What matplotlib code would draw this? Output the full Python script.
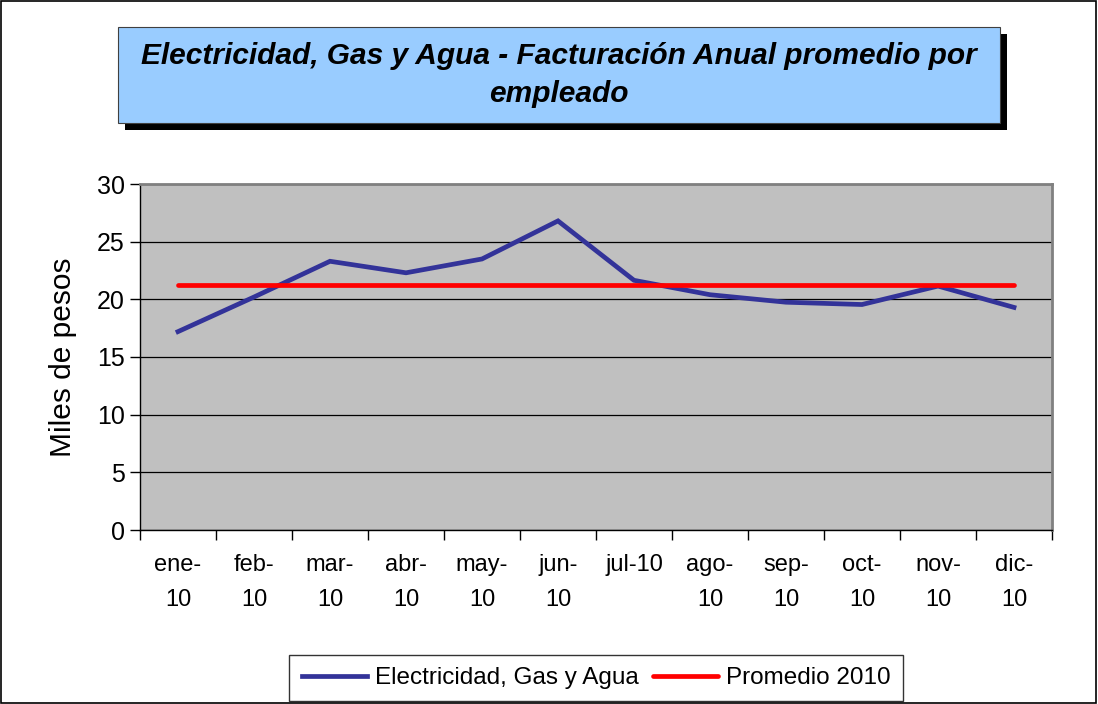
import numpy as np
import matplotlib.pyplot as plt
from matplotlib.patches import Rectangle

plt.rcParams['font.family'] = ['Liberation Sans', 'DejaVu Sans']

meses = ['ene-\n10', 'feb-\n10', 'mar-\n10', 'abr-\n10', 'may-\n10', 'jun-\n10',
         'jul-10', 'ago-\n10', 'sep-\n10', 'oct-\n10', 'nov-\n10', 'dic-\n10']
facturacion = [17.2, 20.2, 23.3, 22.3, 23.5, 26.8, 21.65, 20.4, 19.75, 19.55, 21.15, 19.3]
promedio_2010 = 21.2

W, H = 1098, 704
fig = plt.figure(figsize=(W / 100, H / 100), dpi=100)

# borde del area del grafico
fig.patches.append(Rectangle((0.001, 0.001), 0.997, 0.997, transform=fig.transFigure,
                             fill=False, edgecolor='black', lw=1.2))

# caja del titulo con sombra
def px(x0, y0, x1, y1):
    return (x0 / W, 1 - y1 / H), (x1 - x0) / W, (y1 - y0) / H

xy, w, h = px(125, 34, 1007, 130)
fig.patches.append(Rectangle(xy, w, h, transform=fig.transFigure, facecolor='black', edgecolor='none'))
xy, w, h = px(118, 27, 1000, 123)
fig.patches.append(Rectangle(xy, w, h, transform=fig.transFigure, facecolor='#99CCFF',
                             edgecolor='#404040', lw=0.8))
fig.text(559 / W, 1 - 75 / H,
         'Electricidad, Gas y Agua - Facturación Anual promedio por\nempleado',
         ha='center', va='center', fontsize=21.5, fontweight='bold', fontstyle='italic',
         linespacing=1.42)

ax = fig.add_axes([140 / W, 1 - 530 / H, 912 / W, 346 / H])
ax.set_facecolor('#C0C0C0')

x = np.arange(len(meses))
ax.plot(x, facturacion, color='#333399', lw=3.4, label='Electricidad, Gas y Agua',
        solid_joinstyle='miter', zorder=3)
ax.plot(x, [promedio_2010] * len(meses), color='#FF0000', lw=3.4, label='Promedio 2010',
        solid_capstyle='round', zorder=3)

ax.set_xlim(-0.5, len(meses) - 0.5)
ax.set_ylim(0, 30)
ax.set_yticks(np.arange(0, 31, 5))
ax.yaxis.grid(True, color='black', lw=0.9)
ax.set_axisbelow(True)

ax.set_xticks(np.arange(-0.5, len(meses), 1))
ax.set_xticklabels([])
ax.set_xticks(x, minor=True)
ax.set_xticklabels(meses, minor=True, fontsize=17, va='top', ha='center', linespacing=1.8)
ax.tick_params(axis='x', which='major', direction='out', length=7, width=1)
ax.tick_params(axis='x', which='minor', length=0, pad=17)
ax.tick_params(axis='y', direction='out', length=7, width=1, labelsize=18, pad=4)

for s in ['top', 'right']:
    ax.spines[s].set_color('#808080')
    ax.spines[s].set_linewidth(2)
for s in ['left', 'bottom']:
    ax.spines[s].set_color('black')
    ax.spines[s].set_linewidth(1)

ax.set_ylabel('Miles de pesos', fontsize=21.5, labelpad=14)

leg = fig.legend(loc='center', bbox_to_anchor=(596 / W, 1 - 678 / H), ncol=2,
                 fontsize=17.5, frameon=True, fancybox=False, edgecolor='black',
                 handlelength=2.7, handletextpad=0.3, columnspacing=0.6,
                 borderpad=0.5, borderaxespad=0)
leg.get_frame().set_linewidth(1)

fig.savefig('out.png', dpi=100)
